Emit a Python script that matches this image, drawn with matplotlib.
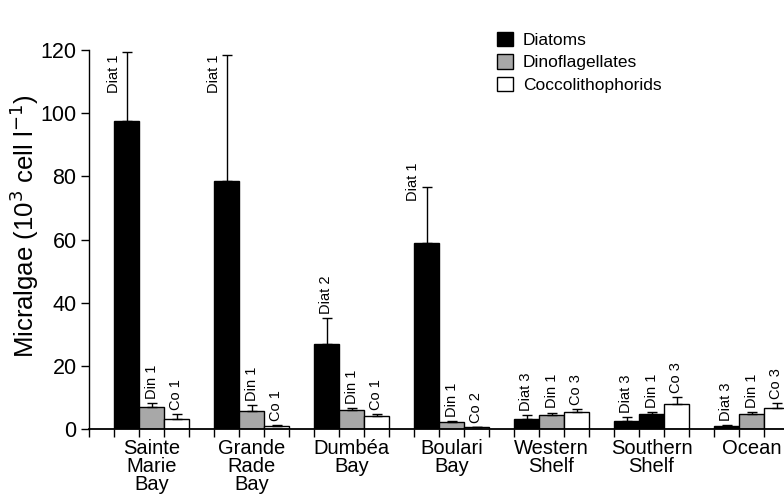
import numpy as np
import matplotlib.pyplot as plt
from matplotlib.patches import Patch

plt.rcParams['font.family'] = ['Liberation Sans', 'DejaVu Sans']

sites = ['Sainte\nMarie\nBay', 'Grande\nRade\nBay', 'Dumbéa\nBay', 'Boulari\nBay',
         'Western\nShelf', 'Southern\nShelf', 'Ocean']

diatoms = [97.5, 78.5, 27.0, 59.0, 3.3, 2.5, 1.0]
diatoms_err = [22.0, 40.0, 8.0, 17.5, 1.2, 1.3, 0.3]
dinos = [7.0, 5.8, 6.0, 2.2, 4.4, 4.8, 4.6]
dinos_err = [1.2, 1.8, 0.6, 0.4, 0.8, 0.6, 0.8]
coccos = [3.3, 0.8, 4.0, 0.5, 5.5, 8.0, 6.5]
coccos_err = [1.3, 0.4, 0.8, 0.2, 0.8, 2.0, 1.8]

diat_tags = ['Diat 1', 'Diat 1', 'Diat 2', 'Diat 1', 'Diat 3', 'Diat 3', 'Diat 3']
din_tags = ['Din 1'] * 7
co_tags = ['Co 1', 'Co 1', 'Co 1', 'Co 2', 'Co 3', 'Co 3', 'Co 3']

grey = '#a8a8a8'
din_colors = [grey] * 7
din_colors[5] = 'black'

fig = plt.figure(figsize=(7.84, 4.95), dpi=100)
ax = fig.add_axes([89 / 784, 66 / 495, 695 / 784, 379 / 495])

n = len(sites)
base = np.arange(n) * 4 + 1.5
series = [
    (diatoms, diatoms_err, ['black'] * n, diat_tags),
    (dinos, dinos_err, din_colors, din_tags),
    (coccos, coccos_err, ['white'] * n, co_tags),
]

for k, (vals, errs, cols, tags) in enumerate(series):
    x = base + k
    ax.bar(x, vals, width=1.0, color=cols, edgecolor='black', linewidth=1.0,
           yerr=[np.zeros(n), errs], capsize=3.5,
           error_kw=dict(elinewidth=1.0, capthick=1.0, ecolor='black'),
           zorder=2)
    for xi, v, e, t in zip(x, vals, errs, tags):
        top = v + e
        if top > 100:
            ax.text(xi - 0.5, 118.5, t, rotation=90, ha='center', va='top', fontsize=10.5)
        elif top > 60:
            ax.text(xi - 0.55, top + 8, t, rotation=90, ha='center', va='top', fontsize=10.5)
        else:
            ax.text(xi, top + 1.3, t, rotation=90, ha='center', va='bottom', fontsize=10.5)

handles = [Patch(facecolor='black', edgecolor='black', label='Diatoms'),
           Patch(facecolor=grey, edgecolor='black', label='Dinoflagellates'),
           Patch(facecolor='white', edgecolor='black', label='Coccolithophorids')]
fig.legend(handles=handles, loc='upper left', bbox_to_anchor=(497 / 784, 1 - 32 / 495),
           frameon=False, fontsize=12.5, handlelength=0.9, handleheight=0.9,
           handletextpad=0.6, labelspacing=0.35, borderaxespad=0, borderpad=0)

ax.set_xlim(0, 27.8)
ax.set_ylim(0, 120)
ax.set_yticks(np.arange(0, 121, 20))
ax.set_xticks(np.arange(0, 28))
ax.set_xticklabels([])
ax.set_xticks(base + 1, minor=True)
ax.set_xticklabels(sites, minor=True, fontsize=14.5, linespacing=0.93, va='top')
ax.tick_params(axis='x', which='minor', length=0, pad=7)
ax.tick_params(axis='x', which='major', direction='out', length=6, width=1)
ax.tick_params(axis='y', direction='out', length=6, width=1, labelsize=15.5, pad=3)

for s in ['top', 'right']:
    ax.spines[s].set_visible(False)
ax.spines['left'].set_linewidth(1)
ax.spines['bottom'].set_linewidth(1.3)

ax.set_ylabel('Micralgae (10$^3$ cell l$^{-1}$)', fontsize=18.5)
ax.yaxis.set_label_coords(-0.069, 0.535)

fig.savefig('out.png', dpi=100)
